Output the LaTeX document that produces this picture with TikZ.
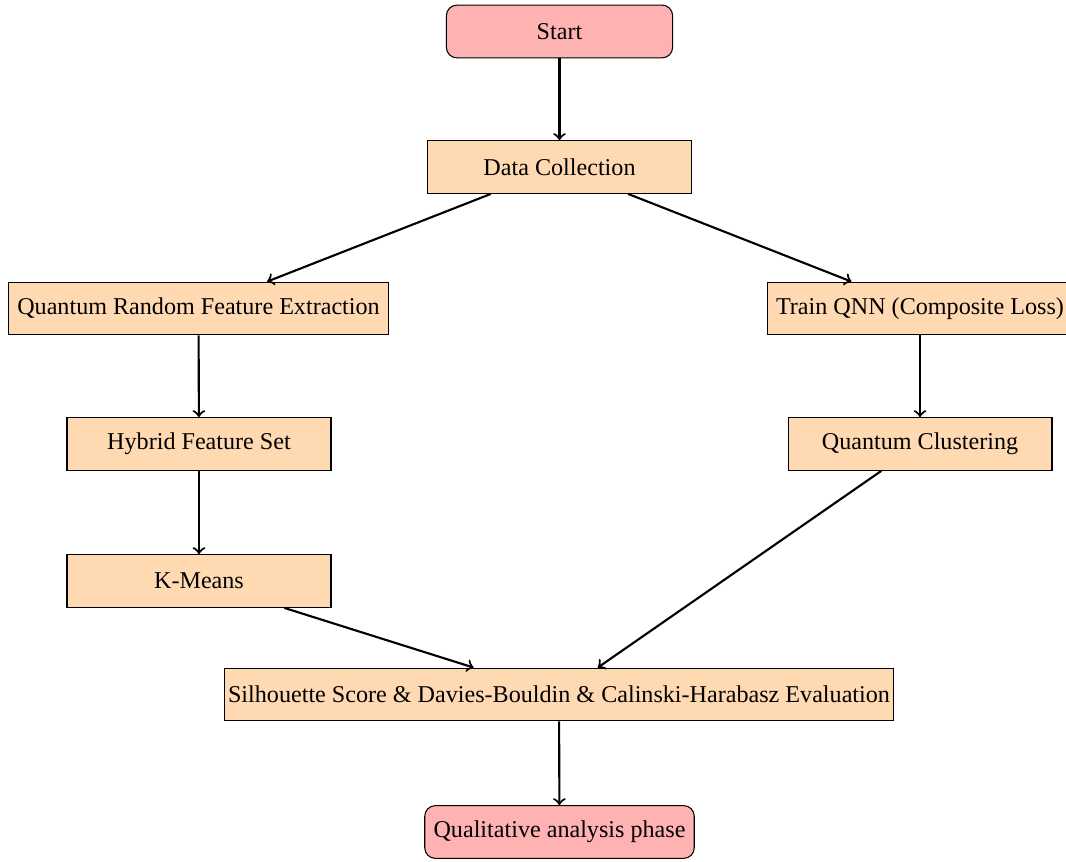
\documentclass[tikz,border=0pt]{standalone}
\usepackage{fontspec}
\setmainfont{Liberation Serif}
\usetikzlibrary{shapes.misc}
\begin{document}
\begin{tikzpicture}[x=0.013263cm, y=-0.013263cm,
  font=\fontsize{9.1pt}{11pt}\selectfont,
  startstop/.style={rectangle, rounded corners, draw, fill=red!30, minimum width=3cm, minimum height=0.7cm, align=center},
  process/.style={rectangle, draw, fill=orange!30, minimum width=3.5cm, minimum height=0.7cm, align=center},
  arrow/.style={thick, ->}]
\useasboundingbox (0,0) rectangle (1066,861);
\node[startstop] (start) at (559.5,31.5) {Start};
\node[process] (data) at (559.5,167) {Data Collection};
\node[process] (qrfe) at (198.5,308.5) {Quantum Random Feature Extraction};
\node[process] (qnn) at (920,308.5) {Train QNN (Composite Loss)};
\node[process] (hyb) at (199,444) {Hybrid Feature Set};
\node[process] (qc) at (920,444) {Quantum Clustering};
\node[process] (km) at (199,581) {K-Means};
\node[process, inner xsep=1.5pt] (eval) at (559,694.5) {Silhouette Score \& Davies-Bouldin \& Calinski-Harabasz Evaluation};
\node[startstop] (qual) at (559.5,832) {Qualitative analysis phase};
\draw[arrow] (start) -- (data);
\draw[arrow] (data) -- (qrfe);
\draw[arrow] (data) -- (qnn);
\draw[arrow] (qrfe) -- (hyb);
\draw[arrow] (hyb) -- (km);
\draw[arrow] (qnn) -- (qc);
\draw[arrow] (km) -- (eval);
\draw[arrow] (qc) -- (eval);
\draw[arrow] (eval) -- (qual);
\end{tikzpicture}
\end{document}
